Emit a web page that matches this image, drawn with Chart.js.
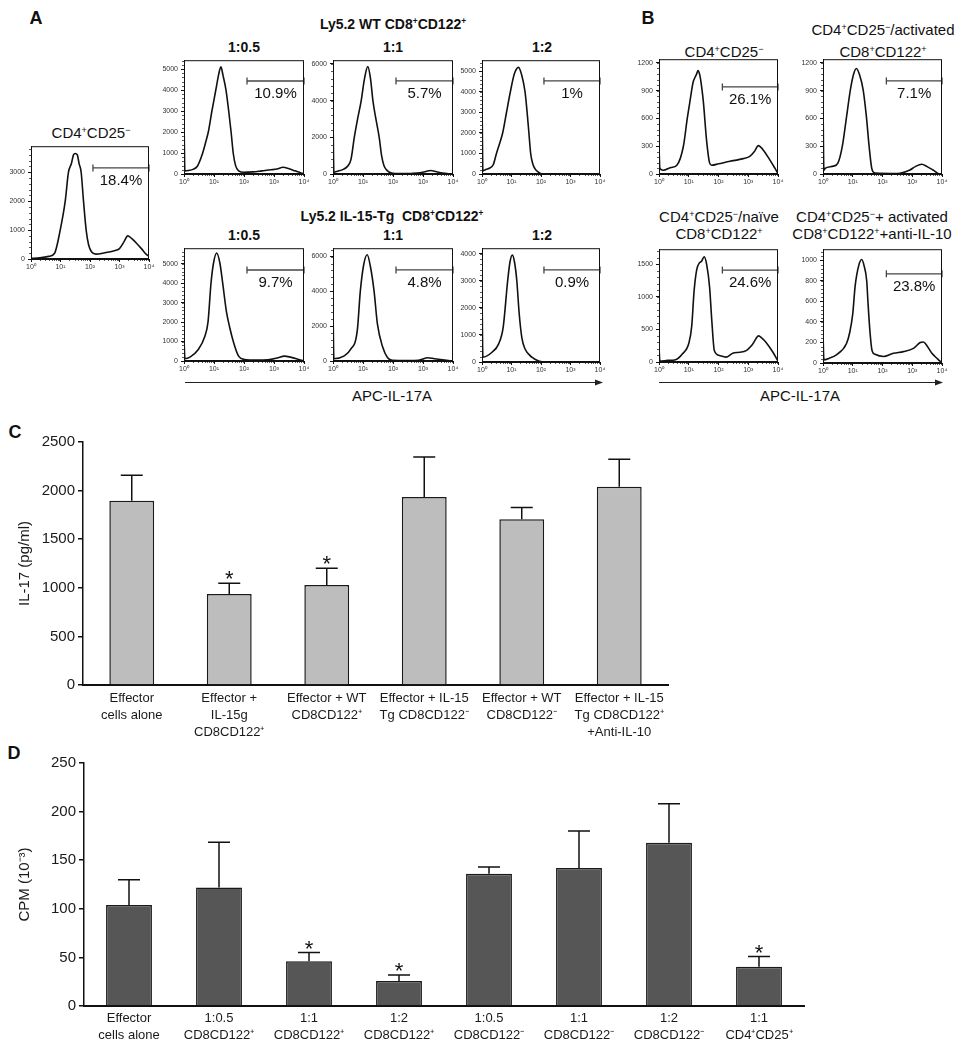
<!DOCTYPE html>
<html>
<head>
<meta charset="utf-8">
<script src="https://cdn.jsdelivr.net/npm/chart.js@4.4.0/dist/chart.umd.min.js"></script>
<style>
body { margin: 0; background: #fff; font-family: Helvetica, Arial, "Liberation Sans", sans-serif; color: #111; }
#fig { position: relative; width: 965px; height: 1050px; overflow: hidden; }
canvas { position: absolute; }
svg { position: absolute; left: 0; top: 0; }
.t { position: absolute; transform: translate(-50%, -50%); white-space: nowrap; font-size: 15px; line-height: 18px; }
.b { font-weight: bold; font-size: 14px; }
.lab { font-weight: bold; font-size: 18px; }
sup { font-size: 0.6em; line-height: 0; vertical-align: 0.6em; }
</style>
</head>
<body>
<div id="fig">
  <div class="t lab" style="left:36px;top:18px">A</div>
  <div class="t lab" style="left:648px;top:18px">B</div>
  <div class="t lab" style="left:15px;top:432px">C</div>
  <div class="t lab" style="left:14px;top:753px">D</div>

  <div class="t b" style="left:393px;top:24px">Ly5.2 WT CD8<sup>+</sup>CD122<sup>+</sup></div>
  <div class="t b" style="left:244px;top:47px">1:0.5</div>
  <div class="t b" style="left:393px;top:47px">1:1</div>
  <div class="t b" style="left:542px;top:47px">1:2</div>
  <div class="t" style="left:91px;top:133px">CD4<sup>+</sup>CD25<sup>−</sup></div>
  <div class="t b" style="left:392px;top:216px">Ly5.2 IL-15-Tg&nbsp;&nbsp;CD8<sup>+</sup>CD122<sup>+</sup></div>
  <div class="t b" style="left:244px;top:235px">1:0.5</div>
  <div class="t b" style="left:393px;top:235px">1:1</div>
  <div class="t b" style="left:542px;top:235px">1:2</div>

  <div class="t" style="left:724px;top:52px">CD4<sup>+</sup>CD25<sup>−</sup></div>
  <div class="t" style="left:883px;top:30px">CD4<sup>+</sup>CD25<sup>−</sup>/activated</div>
  <div class="t" style="left:883px;top:52px">CD8<sup>+</sup>CD122<sup>+</sup></div>
  <div class="t" style="left:719px;top:217px">CD4<sup>+</sup>CD25<sup>−</sup>/naïve</div>
  <div class="t" style="left:719px;top:234px">CD8<sup>+</sup>CD122<sup>+</sup></div>
  <div class="t" style="left:872px;top:217px">CD4<sup>+</sup>CD25<sup>−</sup>+ activated</div>
  <div class="t" style="left:872px;top:234px">CD8<sup>+</sup>CD122<sup>+</sup>+anti-IL-10</div>

  <div class="t" style="left:392px;top:396px">APC-IL-17A</div>
  <div class="t" style="left:800px;top:396px">APC-IL-17A</div>

  <svg width="965" height="1050">
    <line x1="185" y1="382.5" x2="597" y2="382.5" stroke="#222" stroke-width="1"/>
    <polygon points="603,382.5 595,379.5 595,385.5" fill="#222"/>
    <line x1="659" y1="382.5" x2="937" y2="382.5" stroke="#222" stroke-width="1"/>
    <polygon points="943,382.5 935,379.5 935,385.5" fill="#222"/>
  </svg>
</div>

<script>
// ---- flow histograms (x = log10 decade of APC-IL-17A, y = events) ----
const decadeLabels = ['10⁰', '10¹', '10²', '10³', '10⁴'];

const cd4Curve = [[0,20],[0.3,40],[0.6,90],[0.8,200],[0.99,1000],[1.16,2000],[1.27,3000],[1.37,3300],[1.44,3600],[1.5,3650],[1.57,3600],[1.63,3300],[1.7,3000],[1.78,2000],[1.87,1000],[1.95,500],[2.05,250],[2.2,170],[2.5,215],[2.8,280],[3.0,360],[3.15,590],[3.28,800],[3.4,720],[3.6,520],[3.75,350],[3.9,170],[4.0,90]];

const wt05Curve = [[0,2650],[0.03,150],[0.15,170],[0.3,220],[0.45,380],[0.6,900],[0.72,1500],[0.81,2000],[0.93,3000],[1.06,4000],[1.15,4700],[1.23,5100],[1.3,4700],[1.4,4000],[1.49,3000],[1.57,2000],[1.64,1000],[1.72,400],[1.82,150],[2.0,80],[2.3,100],[2.6,150],[2.9,200],[3.1,240],[3.3,320],[3.5,250],[3.7,150],[3.9,50],[4.0,10]];
const wt1Curve = [[0,3230],[0.03,100],[0.15,150],[0.34,250],[0.5,450],[0.6,800],[0.71,2000],[0.82,3000],[0.94,4000],[1.05,5200],[1.16,5850],[1.25,5200],[1.33,4000],[1.43,3000],[1.54,2000],[1.62,1000],[1.7,450],[1.8,200],[1.95,60],[2.2,20],[2.6,30],[2.9,60],[3.1,140],[3.25,190],[3.45,120],[3.65,50],[3.9,10],[4.0,0]];
const wt2Curve = [[0,3930],[0.03,150],[0.1,200],[0.25,280],[0.38,450],[0.49,1000],[0.6,1500],[0.7,2000],[0.83,3000],[0.96,4000],[1.1,4900],[1.24,5200],[1.35,4800],[1.46,4000],[1.53,3000],[1.59,2000],[1.65,1000],[1.72,500],[1.8,250],[1.9,100],[2.05,0],[4.0,0]];

const tg05Curve = [[0,1200],[0.03,117],[0.2,200],[0.47,580],[0.69,1250],[0.8,2000],[0.9,4000],[0.98,5000],[1.09,5550],[1.2,5000],[1.29,4000],[1.41,2583],[1.52,1750],[1.66,917],[1.82,250],[2.02,80],[2.4,50],[2.8,60],[3.1,150],[3.35,250],[3.55,200],[3.75,120],[3.95,20],[4.0,0]];
const tg1Curve = [[0,3000],[0.03,130],[0.36,280],[0.58,650],[0.81,1760],[0.91,4000],[1.02,5500],[1.14,6100],[1.25,5400],[1.37,4000],[1.48,2130],[1.65,830],[1.82,185],[1.98,40],[2.5,30],[2.85,40],[3.16,185],[3.38,130],[3.72,55],[4.0,0]];
const tg2Curve = [[0,2650],[0.03,180],[0.34,360],[0.56,660],[0.72,1300],[0.87,3000],[0.95,3700],[1.03,3950],[1.1,3700],[1.18,3000],[1.26,1800],[1.35,900],[1.46,480],[1.69,180],[1.92,40],[2.14,0],[4.0,0]];

const bCd4Curve = [[0,300],[0.03,60],[0.14,40],[0.4,70],[0.6,95],[0.82,300],[0.95,600],[1.04,784],[1.15,996],[1.22,1050],[1.27,1084],[1.31,1117],[1.37,1070],[1.43,950],[1.49,784],[1.6,360],[1.7,120],[1.77,95],[2.0,110],[2.39,138],[2.6,150],[2.83,166],[3.05,190],[3.2,240],[3.34,307],[3.5,260],[3.73,150],[3.9,60],[4.0,5]];
const bActCurve = [[0,784],[0.03,40],[0.07,60],[0.35,85],[0.5,117],[0.65,300],[0.79,615],[0.92,909],[1.03,1080],[1.12,1140],[1.22,1080],[1.35,909],[1.46,615],[1.55,300],[1.64,60],[1.75,10],[2.5,5],[2.92,43],[3.1,80],[3.32,106],[3.5,80],[3.7,43],[3.93,0],[4.0,0]];
const bNaiveCurve = [[0,225],[0.03,15],[0.3,25],[0.56,35],[0.79,125],[1.01,300],[1.1,550],[1.18,1090],[1.27,1420],[1.36,1520],[1.43,1545],[1.52,1615],[1.6,1500],[1.7,1150],[1.78,600],[1.86,175],[2.03,100],[2.25,75],[2.48,135],[2.7,150],[2.93,175],[3.15,275],[3.35,400],[3.45,370],[3.6,300],[3.83,150],[4.0,15]];
const bAntiCurve = [[0,300],[0.03,30],[0.2,45],[0.45,80],[0.79,190],[0.9,300],[1.0,480],[1.08,750],[1.2,950],[1.3,1010],[1.38,950],[1.47,800],[1.51,600],[1.58,300],[1.65,120],[1.75,85],[2.03,63],[2.37,95],[2.7,111],[3.04,143],[3.27,200],[3.37,205],[3.44,190],[3.66,95],[3.85,40],[4.0,0]];

// y-axis tops and gate markers
const yMaxA = [3900, 5420, 6200, 5550, 5800, 6480, 4200];
const yStepA = [1000, 1000, 2000, 1000, 1000, 2000, 1000];
const gateLevelA = [3150, 4430, 5070, 4540, 4680, 5230, 3400];
const pctA = ['18.4%', '10.9%', '5.7%', '1%', '9.7%', '4.8%', '0.9%'];

const yMaxB = [1240, 1240, 1730, 1110];
const yStepB = [300, 300, 500, 200];
const gateLevelB = [940, 1005, 1410, 870];
const pctB = ['26.1%', '7.1%', '24.6%', '23.8%'];

// ---- bar charts ----
const labelsC = [['Effector', 'cells alone'], ['Effector +', 'IL-15g', 'CD8CD122⁺'], ['Effector + WT', 'CD8CD122⁺'],
                 ['Effector + IL-15', 'Tg CD8CD122⁻'], ['Effector + WT', 'CD8CD122⁻'], ['Effector + IL-15', 'Tg CD8CD122⁺', '+Anti-IL-10']];
const il17 = [1895, 935, 1030, 1935, 1705, 2040];
const il17Err = [263, 113, 172, 411, 121, 282];
const il17Sig = [false, true, true, false, false, false];

const labelsD = [['Effector', 'cells alone'], ['1:0.5', 'CD8CD122⁺'], ['1:1', 'CD8CD122⁺'], ['1:2', 'CD8CD122⁺'],
                 ['1:0.5', 'CD8CD122⁻'], ['1:1', 'CD8CD122⁻'], ['1:2', 'CD8CD122⁻'], ['1:1', 'CD4⁺CD25⁺']];
const cpm = [104, 122, 46, 25.7, 136, 142, 168, 40.5];
const cpmErr = [26, 46.5, 9, 6.3, 7, 38, 40, 10.3];
const cpmSig = [false, false, true, true, false, false, false, true];

Chart.defaults.font.family = 'Helvetica, Arial, "Liberation Sans", sans-serif';
Chart.defaults.color = '#1a1a1a';

const fig = document.getElementById('fig');

function addCanvas(left, top, w, h) {
    const c = document.createElement('canvas');
    c.width = w;
    c.height = h;
    c.style.left = left + 'px';
    c.style.top = top + 'px';
    fig.appendChild(c);
    return c.getContext('2d');
}

// fixed-step ticks from 0 (chart.js rounds odd maxima otherwise)
function stepTicks(step) {
    return scale => {
        scale.ticks = [];
        for (let v = 0; v <= scale.max + 1e-9; v += step) scale.ticks.push({ value: v });
    };
}

// box around the histogram plot area
const frame = {
    id: 'frame',
    afterDraw(chart) {
        const a = chart.chartArea, c = chart.ctx;
        c.save();
        c.strokeStyle = '#111';
        c.lineWidth = 1;
        c.strokeRect(a.left + 0.5, a.top + 0.5, a.right - a.left - 1, a.bottom - a.top - 1);
        c.restore();
    }
};

// small log ticks on x, minor ticks on y
const minorTicks = {
    id: 'minorTicks',
    afterDraw(chart, args, opts) {
        const xs = chart.scales.x, ys = chart.scales.y, a = chart.chartArea, c = chart.ctx;
        c.save();
        c.strokeStyle = '#111';
        c.lineWidth = 0.7;
        c.beginPath();
        for (let d = 0; d < 4; d++) {
            for (let k = 2; k < 10; k++) {
                const px = Math.round(xs.getPixelForValue(d + Math.log10(k))) + 0.5;
                c.moveTo(px, a.bottom);
                c.lineTo(px, a.bottom + 2);
            }
        }
        for (let v = opts.step; v < ys.max; v += opts.step) {
            const py = Math.round(ys.getPixelForValue(v)) + 0.5;
            c.moveTo(a.left, py);
            c.lineTo(a.left - 2, py);
        }
        c.stroke();
        c.restore();
    }
};

// percentage under the gate bar
const gateText = {
    id: 'gateText',
    afterDatasetsDraw(chart, args, opts) {
        const pts = chart.data.datasets[1].data;
        const xs = chart.scales.x, ys = chart.scales.y, c = chart.ctx;
        const cx = (xs.getPixelForValue(pts[0].x) + xs.getPixelForValue(pts[1].x)) / 2;
        const cy = ys.getPixelForValue(pts[0].y) + 13;
        c.save();
        c.font = '15px Helvetica, Arial, "Liberation Sans", sans-serif';
        c.fillStyle = '#111';
        c.textAlign = 'center';
        c.textBaseline = 'middle';
        c.fillText(opts.text, cx, cy);
        c.restore();
    }
};

const YW = 26, XH = 16, PT = 6, PR = 8;

function histogram(box, curve, yMax, yStep, gateX, gateY, pct) {
    const w = box[2] - box[0] + YW + PR;
    const h = box[3] - box[1] + PT + XH;
    const ctx = addCanvas(box[0] - YW, box[1] - PT, w, h);
    new Chart(ctx, {
        type: 'scatter',
        data: {
            datasets: [
                {
                    data: curve.map(p => ({ x: p[0], y: p[1] })),
                    showLine: true, borderColor: '#111', borderWidth: 1.6,
                    pointRadius: 0, cubicInterpolationMode: 'monotone'
                },
                {
                    data: [{ x: gateX, y: gateY }, { x: 4, y: gateY }],
                    showLine: true, borderColor: '#444', borderWidth: 1.3,
                    pointStyle: 'line', rotation: 90, pointRadius: 3.5,
                    pointBorderColor: '#444', pointBorderWidth: 1.3, clip: false
                }
            ]
        },
        options: {
            responsive: false, animation: false, events: [],
            layout: { padding: { left: 0, top: PT, right: PR, bottom: 0 } },
            plugins: {
                legend: { display: false }, tooltip: { enabled: false },
                gateText: { text: pct }, minorTicks: { step: yStep / 5 }
            },
            scales: {
                x: {
                    type: 'linear', min: 0, max: 4,
                    afterFit: s => { s.height = XH; },
                    afterBuildTicks: stepTicks(1),
                    border: { color: '#111', width: 1 },
                    grid: { drawOnChartArea: false, tickLength: 3, color: '#111' },
                    ticks: { padding: 1, maxRotation: 0, font: { size: 7 }, color: '#333',
                             callback: v => decadeLabels[Math.round(v)] }
                },
                y: {
                    min: 0, max: yMax,
                    afterFit: s => { s.width = YW; },
                    afterBuildTicks: stepTicks(yStep),
                    border: { color: '#111', width: 1 },
                    grid: { drawOnChartArea: false, tickLength: 3, color: '#111' },
                    ticks: { padding: 3, font: { size: 7 }, color: '#333', callback: v => String(v) }
                }
            }
        },
        plugins: [frame, minorTicks, gateText]
    });
}

// panel A
const boxesA = [[31, 145, 149, 259], [184, 59, 304, 174], [333, 59, 453, 174], [482, 59, 600, 174],
                [184, 247, 304, 361], [333, 247, 453, 361], [482, 247, 600, 362]];
const curvesA = [cd4Curve, wt05Curve, wt1Curve, wt2Curve, tg05Curve, tg1Curve, tg2Curve];
curvesA.forEach((c, i) => histogram(boxesA[i], c, yMaxA[i], yStepA[i], 2.1, gateLevelA[i], pctA[i]));

// panel B
const boxesB = [[659, 58, 778, 174], [823, 58, 942, 174], [659, 248, 778, 362], [823, 248, 942, 363]];
const curvesB = [bCd4Curve, bActCurve, bNaiveCurve, bAntiCurve];
curvesB.forEach((c, i) => histogram(boxesB[i], c, yMaxB[i], yStepB[i], 2.13, gateLevelB[i], pctB[i]));

// error bars (upper only) and significance stars
const errBars = {
    id: 'errBars',
    afterDatasetsDraw(chart, args, opts) {
        const meta = chart.getDatasetMeta(0), ys = chart.scales.y, c = chart.ctx;
        const vals = chart.data.datasets[0].data;
        c.save();
        c.strokeStyle = '#111';
        c.lineWidth = 1.5;
        c.fillStyle = '#111';
        c.font = '22px Helvetica, Arial, "Liberation Sans", sans-serif';
        c.textAlign = 'center';
        c.textBaseline = 'alphabetic';
        meta.data.forEach((bar, i) => {
            const top = ys.getPixelForValue(vals[i] + opts.err[i]);
            c.beginPath();
            c.moveTo(bar.x, bar.y);
            c.lineTo(bar.x, top);
            c.moveTo(bar.x - 11, top);
            c.lineTo(bar.x + 11, top);
            c.stroke();
            if (opts.sig[i]) c.fillText('*', bar.x, top + 3);
        });
        c.restore();
    }
};

function barChart(left, top, w, h, axisW, axisH, padRight, labels, values, err, sig, color, barPct, yMax, yStep, yTitle, labelPad) {
    const ctx = addCanvas(left, top, w, h);
    new Chart(ctx, {
        type: 'bar',
        data: {
            labels: labels,
            datasets: [{
                data: values, backgroundColor: color, borderColor: '#1a1a1a', borderWidth: 1.5,
                categoryPercentage: 1, barPercentage: barPct
            }]
        },
        options: {
            responsive: false, animation: false, events: [],
            layout: { padding: { left: 0, top: 12, right: padRight, bottom: 0 } },
            plugins: { legend: { display: false }, tooltip: { enabled: false }, errBars: { err: err, sig: sig } },
            scales: {
                x: {
                    afterFit: s => { s.height = axisH; },
                    border: { color: '#111', width: 2 },
                    grid: { display: false, drawTicks: false },
                    ticks: { padding: labelPad, maxRotation: 0, autoSkip: false, color: '#1a1a1a',
                             font: { size: 13, lineHeight: 1.3 } }
                },
                y: {
                    min: 0, max: yMax,
                    afterFit: s => { s.width = axisW; },
                    afterBuildTicks: stepTicks(yStep),
                    border: { color: '#111', width: 1.5 },
                    grid: { drawOnChartArea: false, tickLength: 5, color: '#111', lineWidth: 1.5 },
                    ticks: { padding: 3, color: '#1a1a1a', font: { size: 15 }, callback: v => String(v) },
                    title: { display: true, text: yTitle, color: '#1a1a1a', font: { size: 15 }, padding: { top: 16, bottom: 0 } }
                }
            }
        },
        plugins: [errBars]
    });
}

// panel C: IL-17 ELISA
barChart(0, 430, 690, 317, 83, 62, 22, labelsC, il17, il17Err, il17Sig, '#bdbdbd', 0.46, 2500, 500, 'IL-17 (pg/ml)', 5);

// panel D: proliferation
barChart(0, 751, 824, 299, 84, 44, 20, labelsD, cpm, cpmErr, cpmSig, '#565656', 0.51, 250, 50, 'CPM (10⁻³)', 4);
</script>
</body>
</html>
